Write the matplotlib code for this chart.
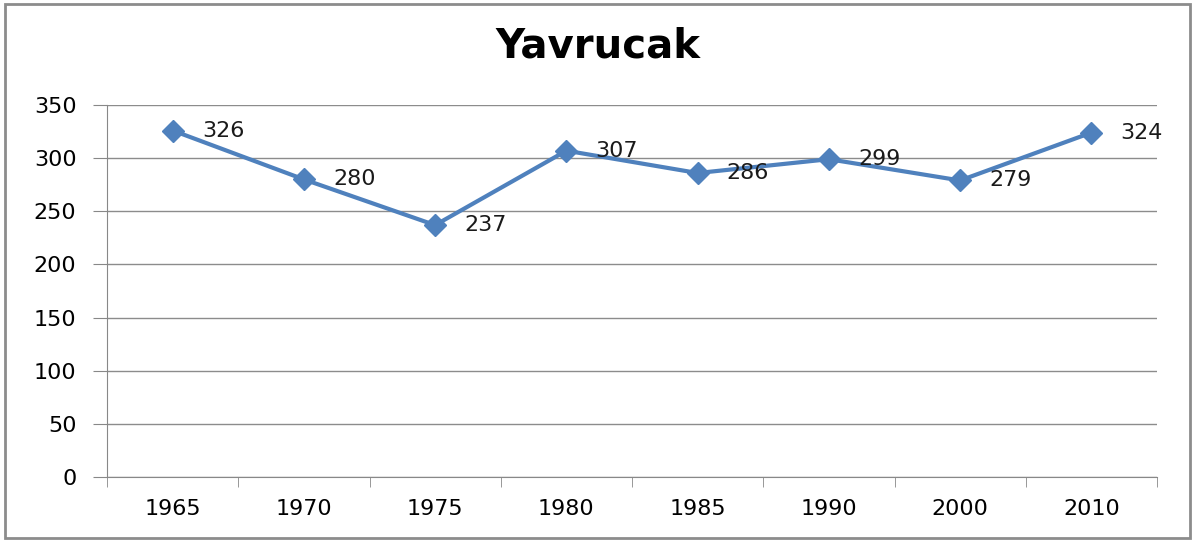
import matplotlib
matplotlib.use("Agg")
from matplotlib import pyplot as plt
from matplotlib.patches import Rectangle

years = ["1965", "1970", "1975", "1980", "1985", "1990", "2000", "2010"]
counts = [326, 280, 237, 307, 286, 299, 279, 324]
y_ticks = [0, 50, 100, 150, 200, 250, 300, 350]


def main() -> None:
    """Draw the Yavrucak line chart and save it."""
    fig = plt.figure(figsize=(11.95, 5.42), dpi=100)
    ax = fig.add_axes([107 / 1195, 65 / 542, 1050 / 1195, 372 / 542])

    xs = list(range(len(years)))
    ax.plot(xs, counts, color="#4F81BD", linewidth=3,
            marker="D", markersize=11.5, zorder=3)
    for x, v in zip(xs, counts):
        ax.annotate(str(v), (x, v), xytext=(21, 0), textcoords="offset points",
                    va="center", ha="left", fontsize=16, color="#1a1a1a")

    ax.set_xlim(-0.5, len(years) - 0.5)
    ax.set_ylim(0, 350)
    ax.set_yticks(y_ticks)
    ax.set_yticklabels([str(t) for t in y_ticks], fontsize=16)
    ax.set_xticks(xs)
    ax.set_xticklabels(years, fontsize=16)
    ax.tick_params(axis="x", length=0, pad=16)
    ax.set_xticks([x - 0.5 for x in range(len(years) + 1)], minor=True)
    ax.tick_params(axis="x", which="minor", length=7, color="#888888")
    ax.tick_params(axis="y", length=10, color="#888888", pad=12)
    ax.grid(axis="y", color="#8c8c8c", linewidth=1)
    ax.set_axisbelow(True)
    for side in ("top", "right"):
        ax.spines[side].set_visible(False)
    for side in ("left", "bottom"):
        ax.spines[side].set_color("#888888")

    fig.text(0.5, 0.915, "Yavrucak", ha="center", va="center",
             fontsize=29, fontweight="bold")
    fig.patches.append(Rectangle((5 / 1195, 4 / 542), 1185 / 1195, 534 / 542,
                                 transform=fig.transFigure, fill=False,
                                 edgecolor="#8c8c8c", linewidth=2))

    fig.savefig("out.png", dpi=100)


if __name__ == "__main__":
    main()
